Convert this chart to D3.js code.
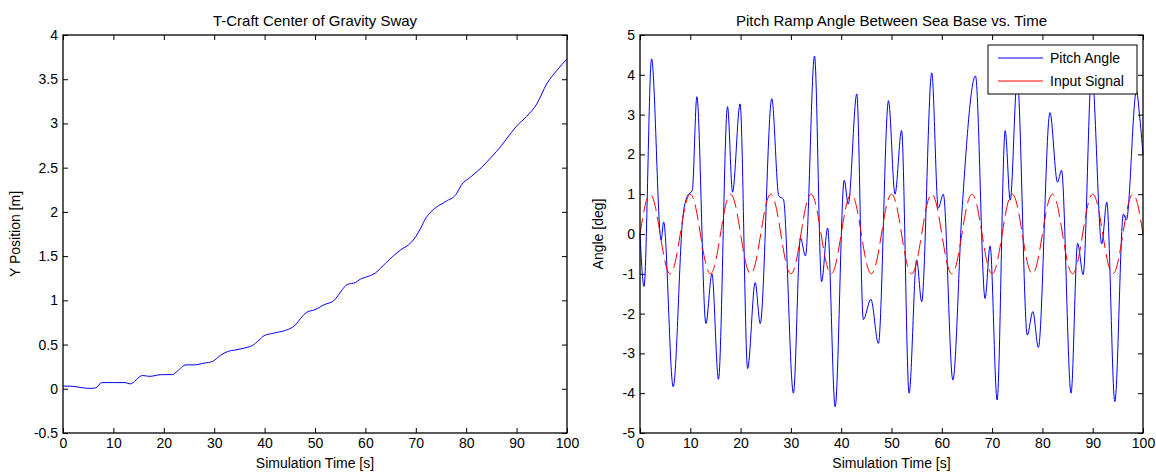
<!DOCTYPE html>
<html>
<head>
<meta charset="utf-8">
<script src="https://cdn.jsdelivr.net/npm/d3@7"></script>
<style>
  body { margin: 0; background: #fff; }
  text { font-family: "Liberation Sans", Arial, sans-serif; fill: #000; }
</style>
</head>
<body>
<div id="g"></div>
<script>
// ---- data ----
var xTicks = [0, 10, 20, 30, 40, 50, 60, 70, 80, 90, 100];
var swayTicks = [-0.5, 0, 0.5, 1, 1.5, 2, 2.5, 3, 3.5, 4];
var angleTicks = [-5, -4, -3, -2, -1, 0, 1, 2, 3, 4, 5];

// left: T-Craft sway
var swayTime = [0, 1, 3, 4, 5.5, 6.5, 7.7, 10, 12.3, 13.3, 15.8, 17.3, 18.7, 20, 21.7, 22.7, 24.4, 26,
  28, 29.7, 31.3, 32.6, 34.3, 36.3, 37.6, 38.9, 39.9, 41.9, 44.6, 45.9, 47.5, 48.5, 49.8, 51.8,
  53.8, 55.4, 56.4, 58, 59, 60, 62, 64, 65.5, 67, 69, 70, 71, 72, 73, 74, 76, 78, 79, 81, 83, 85, 87,
  89, 90, 92, 94, 96, 98, 100];
var swayY = [0.03, 0.03, 0.02, 0.01, 0.005, 0.01, 0.07, 0.07, 0.07, 0.055, 0.15, 0.14, 0.155, 0.16, 0.16, 0.2, 0.27, 0.27,
  0.29, 0.31, 0.38, 0.42, 0.44, 0.465, 0.49, 0.55, 0.6, 0.63, 0.67, 0.71, 0.82, 0.87, 0.89, 0.95,
  1.0, 1.12, 1.18, 1.2, 1.24, 1.26, 1.31, 1.42, 1.5, 1.57, 1.65, 1.72, 1.82, 1.93, 2.0, 2.05, 2.12, 2.2, 2.3, 2.4, 2.5, 2.62, 2.75,
  2.9, 2.97, 3.08, 3.22, 3.45, 3.6, 3.73];

// right: pitch angle (peaks, troughs and shoulders)
var pitchTime = [0, 0.8, 2.3, 4.2, 4.7, 6.6, 8.5, 9.4, 10.4, 11.3, 13.1, 14.3, 15.6, 17.4, 18.4, 19.9,
  21.4, 22.9, 23.9, 26.2, 27.6, 28.5, 30.5, 31.9, 32.9, 34.7, 36.1, 37.3, 38.8, 40.6, 41.4, 43.1,
  44.4, 45.9, 47.4, 49.4, 50.7, 52.0, 53.5, 55.0, 56.0, 58.0, 59.3, 60.3, 62.2, 64.0, 66.7, 68.6,
  69.6, 71.0, 72.6, 73.6, 75.0, 77.0, 78.1, 79.2, 81.5, 83.0, 83.8, 85.7, 87.0, 88.1, 89.8, 91.8,
  92.8, 94.4, 96.1, 96.7, 98.7, 99.3, 100];
var pitchAngle = [0, -1.32, 4.4, -0.15, 0.3, -3.84, 0.4, 0.95, 1.1, 3.45, -2.25, -1.0, -3.65, 3.2, 1.05, 3.27,
  -3.38, -1.22, -2.25, 3.4, 0.95, 0.88, -4.0, -0.1, -0.55, 4.47, -1.2, 0.15, -4.34, 1.35, 0.75, 3.52,
  -2.15, -1.64, -2.75, 3.35, 1.0, 2.6, -4.0, -0.65, -1.7, 4.05, 0.65, 1.0, -3.67, 0.55, 3.97, -1.62,
  -0.3, -4.17, 2.6, 0.85, 3.9, -2.54, -1.95, -2.85, 3.05, 1.3, 1.6, -4.0, -0.23, -1.02, 4.1, -0.25,
  0.8, -4.21, 0.5, 0.35, 3.6, 3.0, 2.0];

// right: input signal, one reading per second
var inputTime = d3.range(0, 101);
var inputSignal = [0, 0.71, 1, 0.71, 0, -0.71, -1, -0.71, 0, 0.71, 1, 0.71, 0, -0.71, -1, -0.71,
  0, 0.71, 1, 0.71, 0, -0.71, -1, -0.71, 0, 0.71, 1, 0.71, 0, -0.71, -1, -0.71,
  0, 0.71, 1, 0.71, 0, -0.71, -1, -0.71, 0, 0.71, 1, 0.71, 0, -0.71, -1, -0.71,
  0, 0.71, 1, 0.71, 0, -0.71, -1, -0.71, 0, 0.71, 1, 0.71, 0, -0.71, -1, -0.71,
  0, 0.71, 1, 0.71, 0, -0.71, -1, -0.71, 0, 0.71, 1, 0.71, 0, -0.71, -1, -0.71,
  0, 0.71, 1, 0.71, 0, -0.71, -1, -0.71, 0, 0.71, 1, 0.71, 0, -0.71, -1, -0.71,
  0, 0.71, 1, 0.71, 0];

var legendNames = ["Pitch Angle", "Input Signal"];
var legendColors = ["#0000ff", "#ff0000"];

// ---- drawing ----
var WIDTH = 1156, HEIGHT = 472;
var TOP = 35, BOTTOM = 433;

var svg = d3.select("#g").append("svg")
  .attr("width", WIDTH)
  .attr("height", HEIGHT);

function drawAxes(x, y, yTicks, title, yLabel, left, right, labelOffset) {
  var g = svg.append("g");

  g.append("g").attr("transform", "translate(0," + BOTTOM + ")")
    .call(d3.axisBottom(x).tickValues(xTicks).tickFormat(function(d){ return d; })
      .tickSizeInner(-5).tickSizeOuter(0).tickPadding(5));
  g.append("g").attr("transform", "translate(0," + TOP + ")")
    .call(d3.axisTop(x).tickValues(xTicks).tickFormat("")
      .tickSizeInner(-5).tickSizeOuter(0));
  g.append("g").attr("transform", "translate(" + left + ",0)")
    .call(d3.axisLeft(y).tickValues(yTicks).tickFormat(function(d){ return d; })
      .tickSizeInner(-5).tickSizeOuter(0).tickPadding(5));
  g.append("g").attr("transform", "translate(" + right + ",0)")
    .call(d3.axisRight(y).tickValues(yTicks).tickFormat("")
      .tickSizeInner(-5).tickSizeOuter(0));

  g.selectAll(".domain").remove();
  g.selectAll(".tick line").attr("stroke", "#000");
  g.selectAll(".tick text")
    .style("font-family", "'Liberation Sans', Arial, sans-serif")
    .style("font-size", "14px")
    .attr("fill", "#000");

  svg.append("text")
    .attr("x", (left + right) / 2).attr("y", 26)
    .attr("text-anchor", "middle")
    .style("font-size", "15px")
    .text(title);

  svg.append("text")
    .attr("x", (left + right) / 2).attr("y", 468)
    .attr("text-anchor", "middle")
    .style("font-size", "14px")
    .text("Simulation Time [s]");

  svg.append("text")
    .attr("transform", "translate(" + (left - labelOffset) + "," + ((TOP + BOTTOM) / 2) + ") rotate(-90)")
    .attr("text-anchor", "middle")
    .style("font-size", "14px")
    .text(yLabel);

  return g;
}

function drawBox(left, right) {
  svg.append("rect")
    .attr("x", left).attr("y", TOP)
    .attr("width", right - left).attr("height", BOTTOM - TOP)
    .attr("fill", "none")
    .attr("stroke", "#000")
    .attr("stroke-width", 1.3);
}

// left chart
var x1 = d3.scaleLinear().domain([0, 100]).range([63, 567]);
var y1 = d3.scaleLinear().domain([-0.5, 4]).range([BOTTOM, TOP]);
drawAxes(x1, y1, swayTicks, "T-Craft Center of Gravity Sway", "Y Position [m]", 63, 567, 43);

var swayLine = d3.line()
  .x(function(d){ return x1(d[0]); })
  .y(function(d){ return y1(d[1]); })
  .curve(d3.curveMonotoneX);

svg.append("path")
  .datum(d3.zip(swayTime, swayY))
  .attr("d", swayLine)
  .attr("fill", "none")
  .attr("stroke", "#0000ff")
  .attr("stroke-width", 1);
drawBox(63, 567);

// right chart
var x2 = d3.scaleLinear().domain([0, 100]).range([640, 1143]);
var y2 = d3.scaleLinear().domain([-5, 5]).range([BOTTOM, TOP]);
drawAxes(x2, y2, angleTicks, "Pitch Ramp Angle Between Sea Base vs. Time", "Angle [deg]", 640, 1143, 37);

var pitchLine = d3.line()
  .x(function(d){ return x2(d[0]); })
  .y(function(d){ return y2(d[1]); });

svg.append("path")
  .datum(d3.zip(pitchTime, pitchAngle))
  .attr("d", pitchLine.curve(d3.curveMonotoneX))
  .attr("fill", "none")
  .attr("stroke", legendColors[0])
  .attr("stroke-width", 1);

svg.append("path")
  .datum(d3.zip(inputTime, inputSignal))
  .attr("d", pitchLine.curve(d3.curveNatural))
  .attr("fill", "none")
  .attr("stroke", legendColors[1])
  .attr("stroke-width", 1)
  .attr("stroke-dasharray", "16,6");
drawBox(640, 1143);

// legend
var legend = svg.append("g");
legend.append("rect")
  .attr("x", 988).attr("y", 45)
  .attr("width", 149).attr("height", 49)
  .attr("fill", "#fff")
  .attr("stroke", "#000")
  .attr("stroke-width", 1);

var rows = legend.selectAll(".row")
  .data(legendNames)
  .enter().append("g")
  .attr("class", "row")
  .attr("transform", function(d, i){ return "translate(0," + (58 + i * 23) + ")"; });

rows.append("line")
  .attr("x1", 998).attr("x2", 1043)
  .attr("y1", 0).attr("y2", 0)
  .attr("stroke", function(d, i){ return legendColors[i]; })
  .attr("stroke-width", 1);

rows.append("text")
  .attr("x", 1050).attr("y", 5)
  .style("font-size", "14px")
  .text(function(d){ return d; });
</script>
</body>
</html>
